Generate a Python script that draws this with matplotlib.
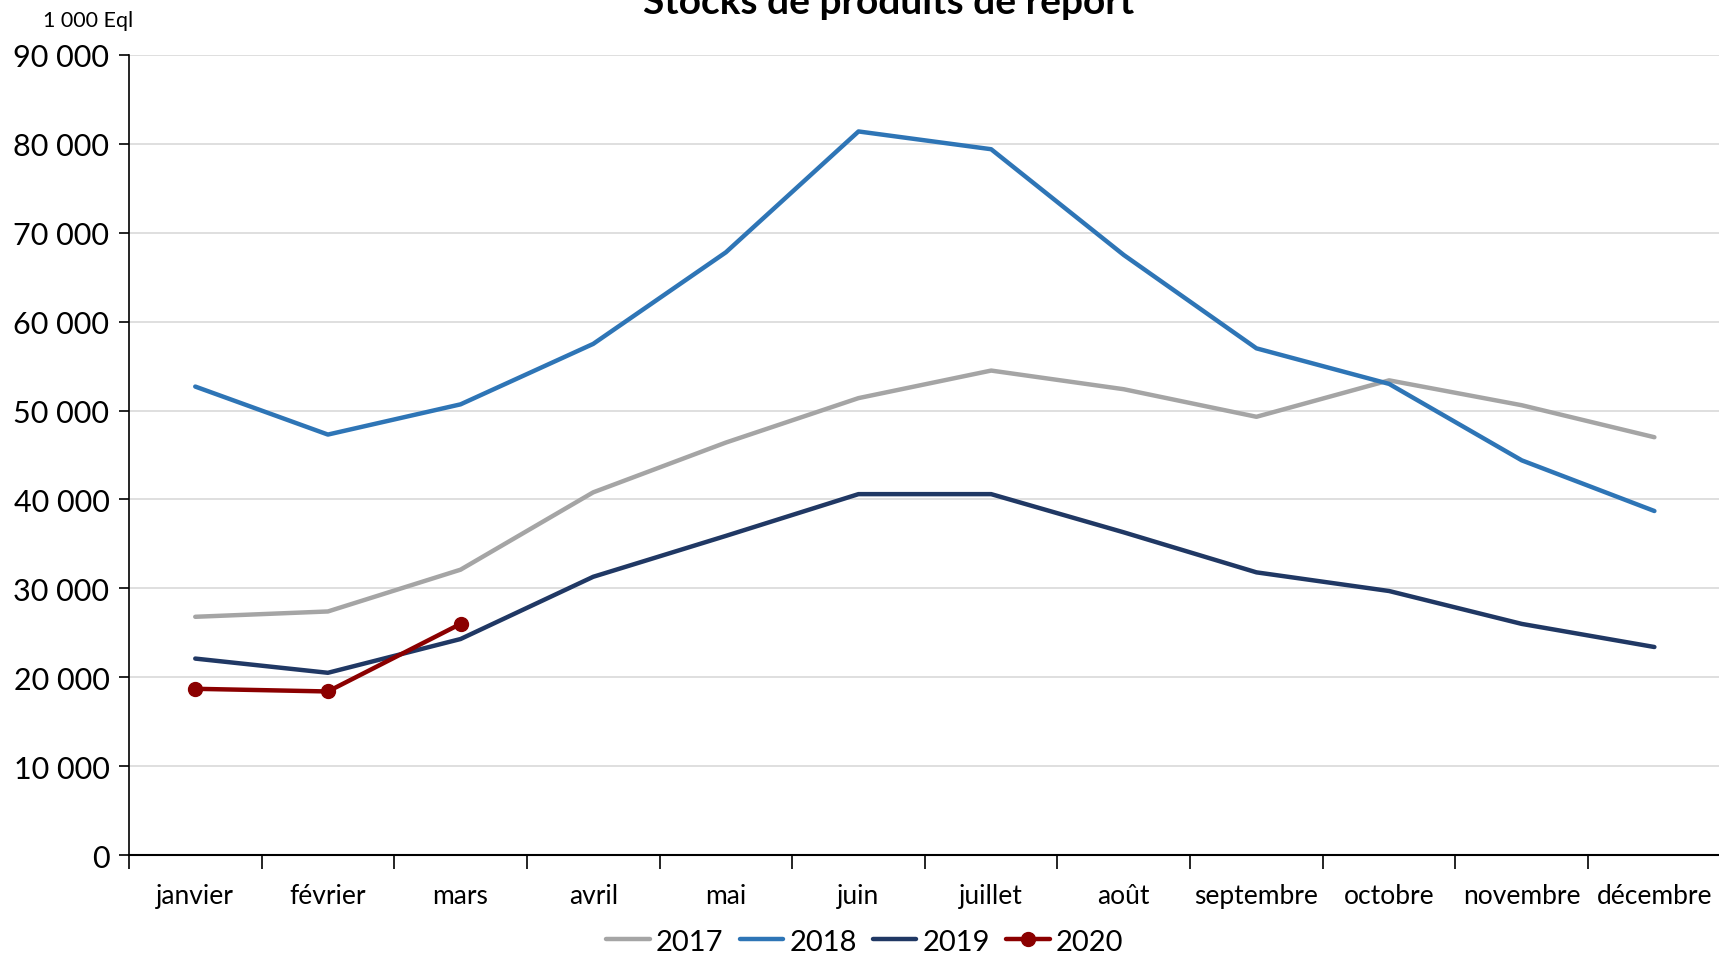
import matplotlib
matplotlib.use("Agg")
import matplotlib.pyplot as plt
from matplotlib.ticker import FuncFormatter, FixedLocator

MONTHS = ["janvier", "février", "mars", "avril", "mai", "juin", "juillet",
          "août", "septembre", "octobre", "novembre", "décembre"]
S2017 = [26800, 27400, 32100, 40800, 46400, 51400, 54500, 52400, 49300, 53400, 50600, 47000]
S2018 = [52700, 47300, 50700, 57500, 67800, 81400, 79400, 67500, 57000, 53000, 44400, 38700]
S2019 = [22100, 20500, 24300, 31300, 35900, 40600, 40600, 36300, 31800, 29700, 26000, 23400]
S2020 = [18700, 18400, 26000]

C17, C18, C19, C20 = "#A5A5A5", "#2E75B6", "#203864", "#8B0000"

plt.rcParams["font.family"] = ["Lato", "DejaVu Sans"]

fig = plt.figure(figsize=(17.19, 9.54), dpi=100)
ax = fig.add_axes([0.075, 0.1027, 0.926, 0.8386])

xs = range(len(MONTHS))
ax.plot(xs, S2017, color=C17, lw=3.2, label="2017", solid_capstyle="round", zorder=3)
ax.plot(xs, S2018, color=C18, lw=3.2, label="2018", solid_capstyle="round", zorder=3)
ax.plot(xs, S2019, color=C19, lw=3.2, label="2019", solid_capstyle="round", zorder=3)
ax.plot(range(len(S2020)), S2020, color=C20, lw=3.2, marker="o", ms=10, label="2020",
        solid_capstyle="round", zorder=4)

ax.set_xlim(-0.5, 11.5)
ax.set_ylim(0, 90000)
ax.set_yticks(range(0, 90001, 10000))
ax.yaxis.set_major_formatter(FuncFormatter(lambda v, _: f"{int(v):,}".replace(",", " ")))
ax.tick_params(axis="y", labelsize=22, length=7, width=1.2, direction="out", pad=7)

ax.set_xticks(list(xs))
ax.set_xticklabels(MONTHS)
ax.tick_params(axis="x", which="major", length=0, labelsize=19, pad=20)
ax.xaxis.set_minor_locator(FixedLocator([i - 0.5 for i in range(13)]))
ax.tick_params(axis="x", which="minor", length=10, width=1.2, direction="out")

ax.grid(axis="y", color="#D9D9D9", lw=1.2, zorder=0)
ax.set_axisbelow(True)
for s in ["top", "right"]:
    ax.spines[s].set_visible(False)
ax.spines["left"].set_linewidth(1.2)
ax.spines["bottom"].set_linewidth(1.5)
ax.spines["bottom"].set_zorder(5)

fig.text(0.0515, 0.978, "1 000 Eql", fontsize=15.5, ha="center", va="center")
fig.text(0.517, 0.985, "Stocks de produits de report", fontsize=28, fontweight="bold",
         ha="center", va="baseline")

fig.legend(loc="center", bbox_to_anchor=(0.503, 0.012), ncol=4, frameon=False, fontsize=21,
           handlelength=1.5, handletextpad=0.2, columnspacing=0.55)

fig.savefig("out.png", dpi=100)
